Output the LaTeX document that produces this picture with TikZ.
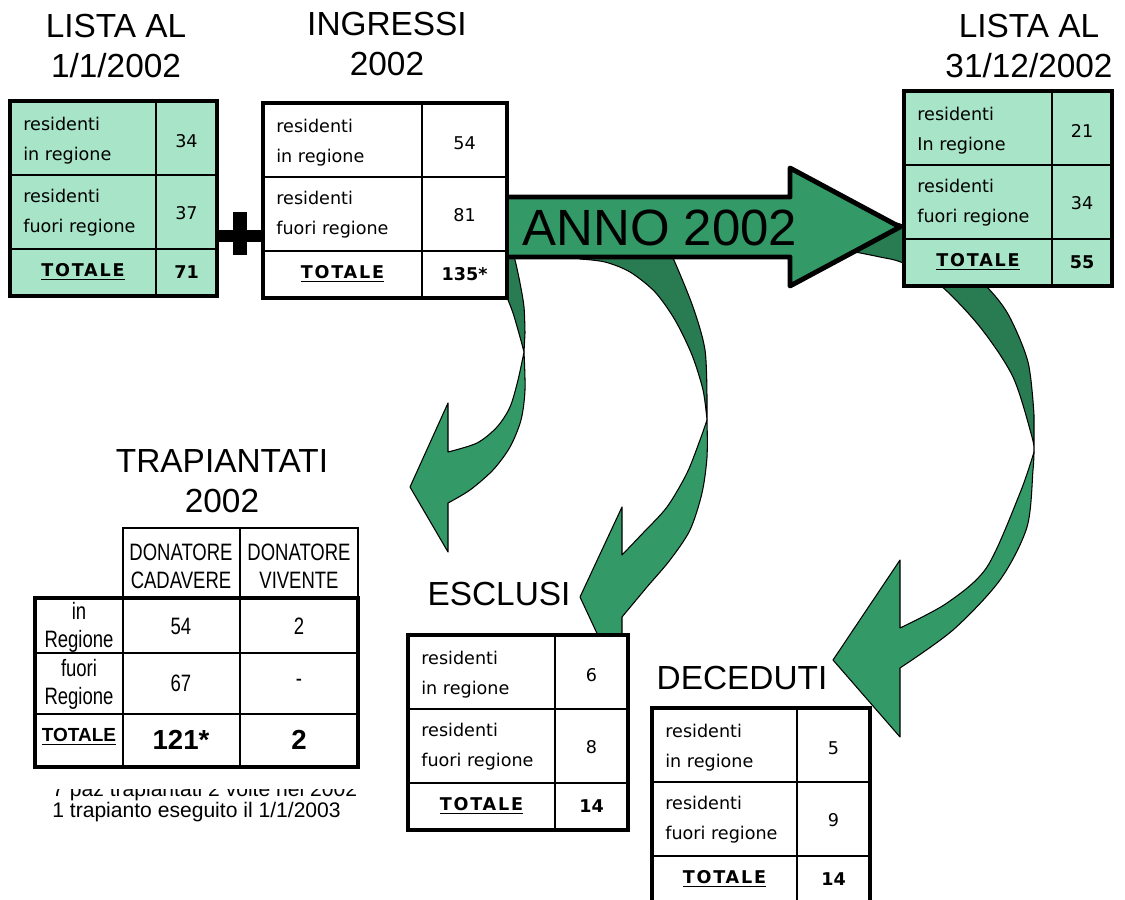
\documentclass[tikz,border=0pt]{standalone}
\usepackage{fontspec}
\setmainfont{Liberation Sans}
\newfontfamily\tahoma{DejaVu Sans}
\newfontfamily\totfont[LetterSpace=10]{DejaVu Sans}
\newfontfamily\strettofont[FakeStretch=0.78]{Liberation Sans}
\usepackage{tikz}

\definecolor{verdechiaro}{RGB}{168,228,200}
\definecolor{verde}{RGB}{51,153,102}
\definecolor{verdescuro}{RGB}{41,123,82}

% frame of a 3-row table: name, fill, x left, x divider, x right, y top
\newcommand{\TABELLA}[6]{%
  \fill[#2] (#3,#6) rectangle (#5,{#6+195});
  \draw[sottile] (#4,#6) -- (#4,{#6+195});
  \draw[sottile] (#3,{#6+74}) -- (#5,{#6+74});
  \draw[sottile] (#3,{#6+148}) -- (#5,{#6+148});
  \draw[spesso] (#3,#6) rectangle (#5,{#6+195});
  \coordinate (#1-a) at ({#3+13},{#6+40});
  \coordinate (#1-b) at ({#3+13},{#6+112});
  \coordinate (#1-c) at ({(#3+#4)/2},{#6+171});
  \coordinate (#1-na) at ({(#4+#5)/2},{#6+40});
  \coordinate (#1-nb) at ({(#4+#5)/2},{#6+112});
  \coordinate (#1-nc) at ({(#4+#5)/2},{#6+171});
}
% texts of a table: name, second line, three numbers
\newcommand{\CELLE}[5]{%
  \node[cella,anchor=west] (#1-r1) at (#1-a) {residenti\\#2};
  \node[cella,anchor=west] (#1-r2) at (#1-b) {residenti\\fuori regione};
  \node[totale] (#1-tot) at (#1-c) {\underline{TOTALE}};
  \node[cella] (#1-n1) at (#1-na) {#3};
  \node[cella] (#1-n2) at (#1-nb) {#4};
  \node[cella,font=\tahoma\bfseries\fontsize{10}{12}\selectfont] (#1-n3) at (#1-nc) {#5};
}

\begin{document}
\begin{tikzpicture}[x=0.02cm,y=-0.02cm,
    sottile/.style={line width=0.75pt},
    spesso/.style={line width=2.3pt},
    curva/.style={draw=black,line width=0.6pt,line join=round},
    cella/.style={font=\tahoma\fontsize{10}{17}\selectfont,align=left,inner sep=0pt},
    totale/.style={font=\totfont\bfseries\fontsize{10}{12}\selectfont,inner sep=0pt},
    titolo/.style={font=\fontsize{19}{23}\selectfont,align=center,inner sep=0pt},
    trap/.style={font=\strettofont\fontsize{13.5}{16}\selectfont,align=center,inner sep=0pt},
    grande/.style={font=\bfseries\fontsize{15.7}{18}\selectfont,inner sep=0pt},
    nota/.style={font=\fontsize{12}{14}\selectfont,inner sep=0pt}]

    \useasboundingbox (0,0) rectangle (1125,899);

    % back faces of the curved arrows
    \fill[verdescuro,curva] (498,268) -- plot[smooth,tension=0.5] coordinates
        {(506,295) (513,313) (520,337) (524,352)}
        -- plot[smooth,tension=0.5] coordinates {(525,333) (524,307) (520,283) (515,260) (509,240)} -- cycle;
    \fill[verdescuro,curva] (572,250) -- plot[smooth,tension=0.5] coordinates
        {(580,259) (605,262) (630,272) (655,292) (675,320) (692,355) (703,390) (707,420)}
        -- plot[smooth,tension=0.5] coordinates {(707,400) (705,350) (693,307) (673,258) (665,245)} -- cycle;
    \fill[verdescuro,curva] (830,250) -- plot[smooth,tension=0.5] coordinates
        {(855,252) (880,257) (903,263) (940,285) (980,327) (1013,377) (1032,437) (1034,452)}
        -- plot[smooth,tension=0.5] coordinates {(1034,415) (1028,362) (1008,314) (985,285) (955,260) (925,238) (900,224) (880,222)} -- cycle;

    % front faces with heads
    \fill[verde,curva] plot[smooth,tension=0.5] coordinates
        {(524,352) (525,390) (521,420) (510,447) (493,470) (470,490) (448,503)}
        -- (448,552) -- (410,487) -- (448,403)
        -- plot[smooth,tension=0.5] coordinates {(448,452) (477,443) (497,427) (510,407) (518,380) (524,352)} -- cycle;
    \fill[verde,curva] plot[smooth,tension=0.5] coordinates
        {(707,420) (707,457) (702,493) (690,530) (670,560) (647,587) (622,617)}
        -- (622,687) -- (580,597) -- (622,507)
        -- plot[smooth,tension=0.5] coordinates {(622,555) (643,533) (667,507) (687,473) (700,440) (707,420)} -- cycle;
    \fill[verde,curva] plot[smooth,tension=0.5] coordinates
        {(1034,452) (1033,470) (1027,527) (1000,580) (953,630) (900,668)}
        -- (900,737) -- (833,660) -- (900,560)
        -- plot[smooth,tension=0.5] coordinates {(900,628) (947,603) (987,567) (1020,493) (1034,452)} -- cycle;

    % big arrow
    \draw[fill=verde,line width=2.8pt,line join=round]
        (505,197) -- (790,197) -- (790,168) -- (900,227) -- (790,286) -- (790,257) -- (505,257) -- cycle;
    \node[font=\fontsize{29}{30}\selectfont,inner sep=0pt] (anno) at (660,228) {ANNO 2002};

    % tables
    \TABELLA{lista1}{verdechiaro}{10}{156}{217}{101}
    \CELLE{lista1}{in regione}{34}{37}{71}
    \TABELLA{ingressi}{white}{263}{422}{507}{103}
    \CELLE{ingressi}{in regione}{54}{81}{135*}
    \TABELLA{lista2}{verdechiaro}{904}{1052}{1112}{91}
    \CELLE{lista2}{In regione}{21}{34}{55}
    \TABELLA{esclusi}{white}{408}{555}{628}{635}
    \CELLE{esclusi}{in regione}{6}{8}{14}
    \TABELLA{deceduti}{white}{652}{797}{870}{708}
    \CELLE{deceduti}{in regione}{5}{9}{14}

    % plus sign
    \fill (233,212) rectangle (247,255);
    \fill (218,230) rectangle (261,242);

    % titles
    \node[titolo] (t-lista1) at (116,46) {LISTA AL\\1/1/2002};
    \node[titolo] (t-ingressi) at (387,44) {INGRESSI\\2002};
    \node[titolo] (t-lista2) at (1029,46) {LISTA AL\\31/12/2002};
    \node[titolo] (t-trap) at (222,481) {TRAPIANTATI\\2002};
    \node[titolo] (t-esclusi) at (499,594) {ESCLUSI};
    \node[titolo] (t-deceduti) at (742,678) {DECEDUTI};

    % transplant table
    \draw[sottile] (123,528) rectangle (358,598);
    \draw[sottile] (240,528) -- (240,767);
    \draw[sottile] (123,598) -- (123,767);
    \draw[sottile] (35,653) -- (358,653);
    \draw[sottile] (35,714) -- (358,714);
    \draw[spesso] (35,598) rectangle (358,767);

    \node[trap] (cad) at (181,566) {DONATORE\\CADAVERE};
    \node[trap] (viv) at (299,566) {DONATORE\\VIVENTE};
    \node[trap] (inreg) at (79,627) {in\\Regione};
    \node[trap] (fuorireg) at (79,684) {fuori\\Regione};
    \node[trap] (cad-in) at (181,626) {54};
    \node[trap] (viv-in) at (299,626) {2};
    \node[trap] (cad-fuori) at (181,683) {67};
    \node[trap] (viv-fuori) at (299,683) {-};
    \node[font=\bfseries\fontsize{10.8}{12}\selectfont,inner sep=0pt] (trap-tot) at (79,737) {\underline{TOTALE}};
    \node[grande] (cad-tot) at (181,740) {121*};
    \node[grande] (viv-tot) at (299,740) {2};

    % notes
    \begin{scope}
        \clip (0,789) rectangle (400,805);
        \node[nota,anchor=base west] (nota1) at (52,796) {7 paz trapiantati 2 volte nel 2002};
    \end{scope}
    \node[nota,anchor=base west] (nota2) at (52,817) {1 trapianto eseguito il 1/1/2003};
\end{tikzpicture}
\end{document}
